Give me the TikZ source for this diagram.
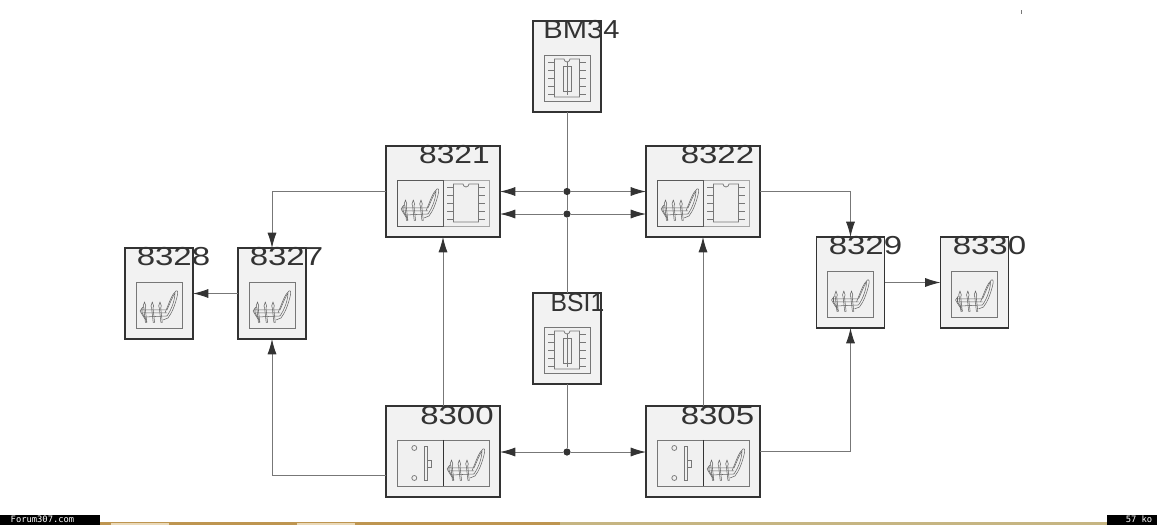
\documentclass[tikz,border=0pt]{standalone}
\usepackage{fontspec}
\setmainfont{Liberation Sans}
\newfontfamily\wideface[FakeStretch=1.27]{Liberation Sans}
\newfontfamily\narrowface[FakeStretch=1.22]{Liberation Sans}
\newfontfamily\midface[FakeStretch=1.12]{Liberation Sans}
\newfontfamily\slimface[FakeStretch=0.95]{Liberation Sans}
\newfontfamily\footfont{DejaVu Sans Mono}
\usepackage{xcolor}
\definecolor{boxgray}{HTML}{F2F2F2}
\definecolor{inkdark}{HTML}{333333}
\definecolor{wiregray}{HTML}{777777}
\definecolor{iconfill}{HTML}{F0F0F0}
\definecolor{stripA}{HTML}{BE9550}
\definecolor{stripB}{HTML}{C6B582}
\definecolor{stripC}{HTML}{EAD9B8}
\usetikzlibrary{positioning, arrows.meta}
\tikzset{
  pics/seaticon/.style={code={
    \draw[seatline] (6,8) .. controls (10,-2) and (13,-11) .. (17,-14)
      .. controls (19,-15) and (19,-12) .. (18,-8) .. controls (16,0) and (13,8) .. (9,13) -- (4,15);
    \draw[seatline] (8,5) .. controls (11,-2) and (14,-9) .. (16,-12)
      .. controls (16,-6) and (13,4) .. (8,11);
    \foreach \px in {-14.5,-6.7,1}{
      \draw[seatline, fill=iconfill] (\px-1.3,1) -- (\px,-3) -- (\px+1.3,1) -- (\px+0.7,3) -- (\px+2.3,17.5)
        -- (\px+0.9,17.5) -- (\px-0.7,3) -- cycle;
    }
    \draw[seatline] (-18,5) -- (7,5) (-17,8) -- (8,8) (-14,12) -- (8,11);
    \draw[seatline] (-16,2) -- (-19,6) -- (-16,11) -- (-12,17);
    \draw[seatline] (-17,3) -- (-17,8) -- (-13,14);
  }},
  pics/chipicon/.style={code={
    \draw[chipline] (-12.5,-19) -- (-3,-19) arc[start angle=180, end angle=0, radius=3] -- (12.5,-19)
      -- (12.5,19) -- (-12.5,19) -- cycle;
    \foreach \py in {-16,-8,0,8,16}{
      \draw[chipline] (-19,\py) -- (-12.5,\py) (12.5,\py) -- (19,\py);
    }
  }},
  pics/fuseicon/.style={code={
    \draw[panelline] (-23,-23) rectangle (23,23);
    \pic {chipicon};
    \draw[chipline] (-4,-12) rectangle (4,13);
    \draw[chipline] (0,-16) -- (0,17);
  }},
  pics/switchicon/.style={code={
    \draw[chipline] (-5.7,-15) circle[radius=2.5] (-5.7,15) circle[radius=2.5];
    \draw[chipline] (4.7,-17) rectangle (7.3,17);
    \draw[chipline] (7.3,-3) rectangle (11.3,4.3);
  }},
  pics/seatpanel/.style={code={
    \draw[panelline] (-23,-23) rectangle (23,23);
    \pic {seaticon};
  }},
  pics/seatchip/.style={code={
    \draw[panelline, draw=gray!70] (0,-23) rectangle (46,23);
    \draw[panelline, draw=black!65] (-46,-23) rectangle (0,23);
    \pic at (-23,0) {seaticon};
    \pic at (23,0) {chipicon};
  }},
  pics/switchseat/.style={code={
    \draw[panelline] (-46,-23) rectangle (46,23);
    \draw[inkdark, line width=0.7pt] (0,-23) -- (0,23);
    \pic at (-23,0) {switchicon};
    \pic at (23,0) {seaticon};
  }}
}
\begin{document}
\begin{tikzpicture}[
  x=0.75pt, y=-0.75pt,
  node distance=109.5pt and 109.5pt,
  unit/.style={draw=inkdark, fill=boxgray, line width=0.9pt, minimum height=68.25pt,
               minimum width=51pt, inner sep=0pt, outer sep=0pt},
  wideunit/.style={unit, minimum width=85.5pt},
  title/.style={font=\fontsize{19.5}{20}\selectfont, text=inkdark, inner sep=0pt},
  seatline/.style={draw=black!60, line width=0.4pt, line join=round},
  chipline/.style={draw=wiregray, line width=0.55pt},
  panelline/.style={draw=wiregray, fill=iconfill, line width=0.7pt},
  junction/.style={circle, fill=inkdark, inner sep=0pt, minimum size=5.4pt},
  arr/.style={-{Latex[length=11.5pt, width=6.8pt, color=inkdark]}, draw=wiregray, line width=0.7pt},
  wire/.style={draw=wiregray, line width=0.7pt},
  tag/.style={text=white, font=\footfont\fontsize{6.6}{7}\selectfont, inner sep=0pt}
]
\useasboundingbox (0,0) rectangle (1157,525);
\fill[white] (0,0) rectangle (1157,525);

% units
\node[wideunit] (n8321) at (443,191.5) {};
\node[wideunit, right=109.5pt of n8321] (n8322) {};
\node[wideunit, below=126.75pt of n8321] (n8300) {};
\node[wideunit, below=126.75pt of n8322] (n8305) {};
\node[unit] (bm34) at (567,66.5) {};
\node[unit] (bsi1) at (567,338.5) {};
\node[unit] (n8327) at (272,293.5) {};
\node[unit, left=33.75pt of n8327] (n8328) {};
\node[unit] (n8329) at (850.5,282.5) {};
\node[unit, right=42pt of n8329] (n8330) {};

% icons
\pic at ([yshift=-8.6pt]n8321) {seatchip};
\pic at ([yshift=-8.6pt]n8322) {seatchip};
\pic at ([yshift=-8.6pt]n8300) {switchseat};
\pic at ([yshift=-8.6pt]n8305) {switchseat};
\pic at ([yshift=-8.6pt]bm34) {fuseicon};
\pic at ([yshift=-8.6pt]bsi1) {fuseicon};
\pic at ([yshift=-8.6pt]n8327) {seatpanel};
\pic at ([yshift=-8.6pt]n8328) {seatpanel};
\pic at ([yshift=-8.6pt]n8329) {seatpanel};
\pic at ([yshift=-8.6pt]n8330) {seatpanel};

% junctions
\node[junction] (ja) at (567,191.5) {};
\node[junction] (jb) at (567,214) {};
\node[junction] (jc) at (567,452) {};
\coordinate (exit8300) at (386,475);

\draw[wire] (bm34) -- (ja);
\draw[wire] (ja) -- (jb);
\draw[wire] (jb) -- (bsi1);
\draw[wire] (bsi1) -- (jc);
\draw[arr] (ja) -- (ja -| n8321.east);
\draw[arr] (ja) -- (ja -| n8322.west);
\draw[arr] (jb) -- (jb -| n8321.east);
\draw[arr] (jb) -- (jb -| n8322.west);
\draw[arr] (jc) -- (jc -| n8300.east);
\draw[arr] (jc) -- (jc -| n8305.west);
\draw[arr] (n8300) -- (n8321);
\draw[arr] (n8305) -- (n8322);
\draw[arr] (n8321.west) -| (n8327.north);
\draw[arr] (n8322.east) -| (n8329.north);
\draw[arr] (n8327) -- (n8328);
\draw[arr] (n8329) -- (n8330);
\draw[arr] (exit8300) -| (n8327.south);
\draw[arr] (n8305.east) -| (n8329.south);

% titles on top of the boxes
\node[title] (t8321) at (454.5,154.5) {\narrowface 8321};
\node[title] (t8322) at (717.5,154.5) {\wideface 8322};
\node[title] (t8300) at (457,415.5) {\wideface 8300};
\node[title] (t8305) at (717.5,415.5) {\wideface 8305};
\node[title] (tbm34) at (581.5,30) {\midface BM34};
\node[title] (tbsi1) at (577.5,303) {\slimface BSI1};
\node[title] (t8328) at (173.5,257) {\wideface 8328};
\node[title] (t8327) at (286.5,257) {\wideface 8327};
\node[title] (t8329) at (865.5,246) {\wideface 8329};
\node[title] (t8330) at (989.5,246) {\wideface 8330};

% bottom strip
\fill[stripA] (100,522) rectangle (560,525);
\fill[stripB] (560,522) rectangle (1107,525);
\fill[stripC] (111,522.5) rectangle (169,525);
\fill[stripC] (297,522.5) rectangle (355,525);
\fill[black] (0,515) rectangle (100,525);
\fill[black] (1107,515) rectangle (1157,525);
\node[tag] (forumtag) at (42.5,519.5) {Forum307.com};
\node[tag] (sizetag) at (1139,519.5) {57 ko};
\draw[wiregray, line width=0.5pt] (1021,10) -- (1021,14);
\end{tikzpicture}
\end{document}
